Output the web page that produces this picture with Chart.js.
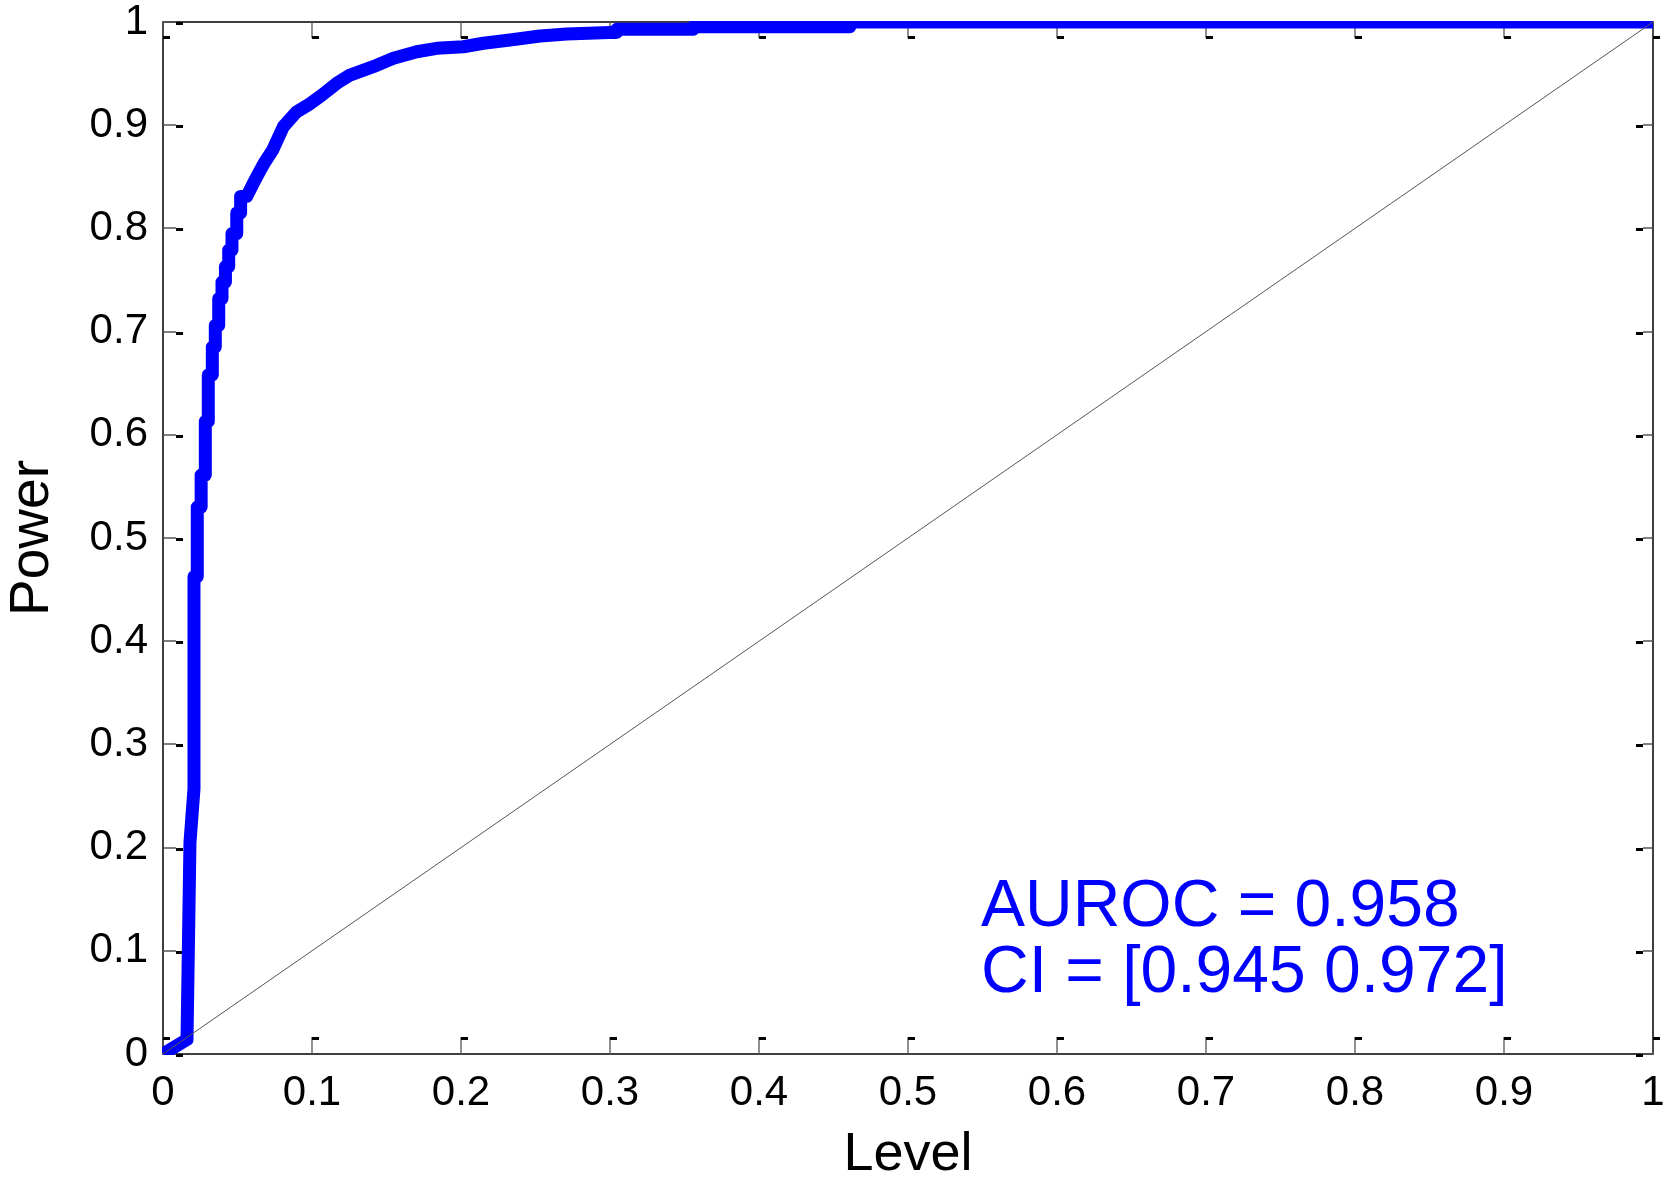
<!DOCTYPE html>
<html>
<head>
<meta charset="utf-8">
<title>ROC curve</title>
<script src="https://cdn.jsdelivr.net/npm/chart.js@4.4.1/dist/chart.umd.min.js"></script>
<style>
  html, body { margin: 0; padding: 0; background: #fff; }
</style>
</head>
<body>
<canvas id="rocChart" width="1668" height="1182"></canvas>
<script>
// ROC curve (level = false positive rate, power = true positive rate)
const levelValues = [0, 0.0161, 0.0181, 0.0208, 0.0208, 0.0230, 0.0230, 0.0256, 0.0256, 0.0284,
  0.0284, 0.0304, 0.0304, 0.0331, 0.0331, 0.0351, 0.0351, 0.0374, 0.0374, 0.0396,
  0.0396, 0.0419, 0.0419, 0.0441, 0.0441, 0.0463, 0.0463, 0.0495, 0.0495, 0.0521,
  0.0521, 0.0562, 0.0600, 0.0629, 0.0678, 0.0736, 0.0808, 0.0897, 0.0975, 0.1065,
  0.1166, 0.1255, 0.1411, 0.1546, 0.1703, 0.1837, 0.2016, 0.2150, 0.2329, 0.2530,
  0.2710, 0.3045, 0.3045, 0.3560, 0.3560, 0.4610, 0.4610, 1];
const powerValues = [0, 0.014, 0.205, 0.257, 0.4625, 0.4625, 0.530, 0.530, 0.561, 0.561,
  0.613, 0.613, 0.658, 0.658, 0.685, 0.685, 0.706, 0.706, 0.732, 0.732,
  0.748, 0.748, 0.763, 0.763, 0.779, 0.779, 0.795, 0.795, 0.815, 0.815,
  0.831, 0.831, 0.842, 0.850, 0.863, 0.876, 0.8986, 0.913, 0.9196, 0.929,
  0.9406, 0.9486, 0.9567, 0.9648, 0.9712, 0.9745, 0.976, 0.9794, 0.9826, 0.9864,
  0.9884, 0.990, 0.993, 0.993, 0.9955, 0.9955, 1, 1];

// chance line
const diagLevel = [0, 1];
const diagPower = [0, 1];

const xTickLabels = ['0', '0.1', '0.2', '0.3', '0.4', '0.5', '0.6', '0.7', '0.8', '0.9', '1'];
const yTickLabels = ['0', '0.1', '0.2', '0.3', '0.4', '0.5', '0.6', '0.7', '0.8', '0.9', '1'];

const aurocText = 'AUROC = 0.958';
const ciText = 'CI = [0.945 0.972]';

const FONT = '"Liberation Sans", Arial, Helvetica, sans-serif';

// MATLAB style box with inward ticks on all four sides
const boxPlugin = {
  id: 'matlabBox',
  beforeDatasetsDraw(chart) {
    const { ctx, chartArea: a, scales } = chart;
    ctx.save();
    ctx.strokeStyle = '#000';
    ctx.lineWidth = 1.5;
    ctx.strokeRect(a.left, a.top, a.right - a.left, a.bottom - a.top);

    ctx.lineWidth = 1.3;
    ctx.strokeStyle = '#555';
    ctx.fillStyle = '#000';
    scales.x.ticks.forEach(t => {
      const px = Math.round(scales.x.getPixelForValue(t.value));
      ctx.beginPath();
      ctx.moveTo(px, a.bottom); ctx.lineTo(px, a.bottom - 17);
      ctx.moveTo(px, a.top); ctx.lineTo(px, a.top + 16);
      ctx.stroke();
      ctx.fillRect(px, a.bottom - 17, 7, 3);
      ctx.fillRect(px, a.top + 14, 7, 3);
    });
    scales.y.ticks.forEach(t => {
      const py = Math.round(scales.y.getPixelForValue(t.value));
      ctx.beginPath();
      ctx.moveTo(a.left, py); ctx.lineTo(a.left + 13, py);
      ctx.moveTo(a.right, py); ctx.lineTo(a.right - 10, py);
      ctx.stroke();
      ctx.fillRect(a.left + 13, py, 7, 3);
      ctx.fillRect(a.right - 17, py, 7, 3);
    });
    ctx.restore();
  },
  afterDraw(chart) {
    const { ctx, scales } = chart;
    const tx = scales.x.getPixelForValue(0.549);
    ctx.save();
    ctx.font = '66px ' + FONT;
    ctx.fillStyle = '#0000ff';
    ctx.textBaseline = 'alphabetic';
    ctx.textAlign = 'left';
    ctx.fillText(aurocText, tx, scales.y.getPixelForValue(0.124));
    ctx.fillText(ciText, tx, scales.y.getPixelForValue(0.0605));
    ctx.restore();
  }
};

const ctx = document.getElementById('rocChart').getContext('2d');
new Chart(ctx, {
  type: 'line',
  data: {
    datasets: [
      {
        label: 'Chance',
        data: diagLevel.map((v, i) => ({ x: v, y: diagPower[i] })),
        borderColor: '#555',
        borderWidth: 1,
        pointRadius: 0,
        fill: false
      },
      {
        label: 'ROC',
        data: levelValues.map((v, i) => ({ x: v, y: powerValues[i] })),
        borderColor: '#0000ff',
        borderWidth: 13,
        borderJoinStyle: 'round',
        borderCapStyle: 'butt',
        pointRadius: 0,
        tension: 0,
        fill: false,
        clip: 1
      }
    ]
  },
  options: {
    responsive: false,
    animation: false,
    layout: { padding: { top: 22, right: 15, left: 0, bottom: 0 } },
    plugins: {
      legend: { display: false },
      tooltip: { enabled: false }
    },
    scales: {
      x: {
        type: 'linear',
        min: 0,
        max: 1,
        grid: { display: false, drawTicks: false },
        border: { display: false },
        ticks: {
          stepSize: 0.1,
          autoSkip: false,
          maxRotation: 0,
          padding: 14,
          color: '#000',
          font: { family: FONT, size: 42 },
          callback: (v, i) => xTickLabels[i]
        },
        title: {
          display: true,
          text: 'Level',
          color: '#000',
          font: { family: FONT, size: 54, lineHeight: 1 },
          padding: { top: 0, bottom: 0 }
        },
        afterFit(scale) {
          scale.height = 128;
          scale.paddingLeft = 0;
          scale.paddingRight = 0;
        }
      },
      y: {
        type: 'linear',
        min: 0,
        max: 1,
        grid: { display: false, drawTicks: false },
        border: { display: false },
        ticks: {
          stepSize: 0.1,
          autoSkip: false,
          padding: 15,
          color: '#000',
          font: { family: FONT, size: 42 },
          callback: (v, i) => yTickLabels[i]
        },
        title: {
          display: true,
          text: 'Power',
          color: '#000',
          font: { family: FONT, size: 55, lineHeight: 1 },
          padding: { top: 5, bottom: 0 }
        },
        afterFit(scale) {
          scale.width = 163;
          scale.paddingTop = 0;
          scale.paddingBottom = 0;
        }
      }
    }
  },
  plugins: [boxPlugin]
});
</script>
</body>
</html>
